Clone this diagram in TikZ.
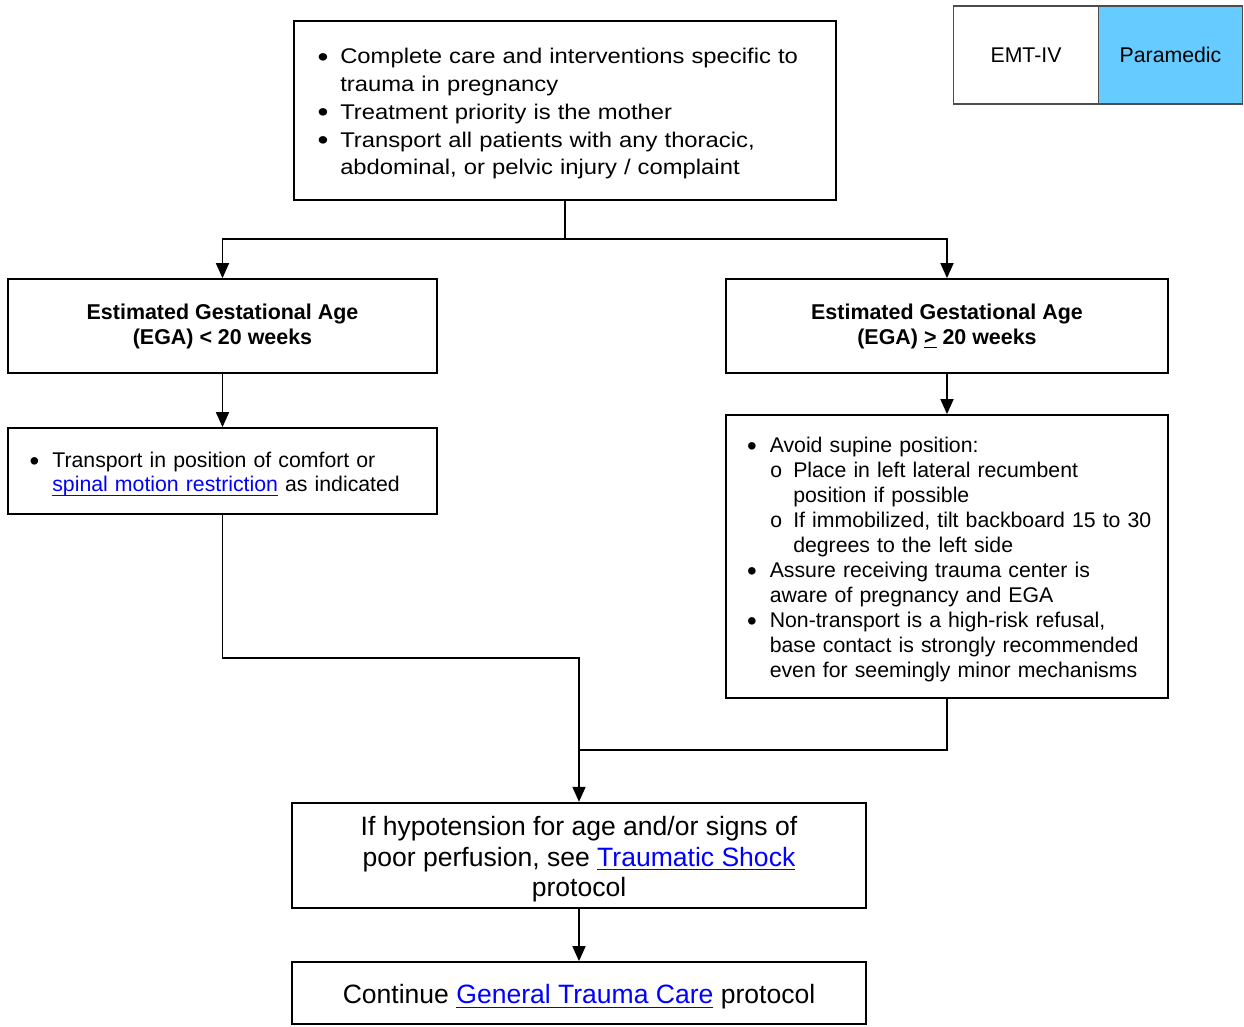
\documentclass[tikz,border=0pt]{standalone}
\usepackage{fontspec}
\usepackage{graphicx}
\setmainfont{Liberation Sans}
\setmonofont{Liberation Mono}
\newfontfamily\widesans{Liberation Sans}[FakeStretch=1.12]
\usetikzlibrary{arrows.meta}
\newsavebox{\ulbox}
\newcommand{\ulwords}[1]{\sbox{\ulbox}{#1}\rlap{\rule[-2.2pt]{\wd\ulbox}{0.6pt}}\usebox{\ulbox}}
\newcommand{\protolink}[1]{\textcolor{linkblue}{\ulwords{#1}}}
\newcommand{\itembul}{\makebox[0.455cm][l]{\raisebox{-0.12em}{\scalebox{1.3}{\textbullet}}}}
\newcommand{\itemgap}{\hspace*{0.455cm}}
\newcommand{\subbul}{\makebox[0.47cm][l]{\ttfamily o}}
\begin{document}
\begin{tikzpicture}[font=\fontsize{12.1}{14.2}\selectfont,
  >={Triangle[width=0.26cm,length=0.3cm]},
  box/.style={draw, line width=1pt, align=center, execute at begin node={\rule{0pt}{1.03em}}},
  listbox/.style={box, align=left},
  flow/.style={line width=1pt, ->},
  legendbox/.style={draw=black!70, line width=0.8pt, minimum width=2.89cm, minimum height=1.96cm}]
  \definecolor{linkblue}{RGB}{0,0,255}
  \definecolor{paramedicblue}{RGB}{102,204,255}
  \useasboundingbox (0,0) rectangle (24.88,-20.52);
  % provider levels
  \node[legendbox] (emt) at (20.52,-1.10) {EMT-IV};
  \node[legendbox, fill=paramedicblue] (para) at (23.41,-1.10) {Paramedic};
  % initial care
  \node[listbox, text width=9.90cm, inner xsep=0.47cm, minimum height=3.58cm,
    font=\widesans\fontsize{12.1}{15.8}\selectfont] (care) at (11.30,-2.21)
    {\itembul Complete care and interventions specific to\\
     \itemgap trauma in pregnancy\\
     \itembul Treatment priority is the mother\\
     \itembul Transport all patients with any thoracic,\\
     \itemgap abdominal, or pelvic injury / complaint};
  % gestational age
  \node[box, minimum width=8.58cm, minimum height=1.88cm,
    font=\bfseries\fontsize{12.2}{14.2}\selectfont] (egaless) at (4.45,-6.52)
    {Estimated Gestational Age\\(EGA) < 20 weeks};
  \node[box, minimum width=8.84cm, minimum height=1.88cm,
    font=\bfseries\fontsize{12.2}{14.2}\selectfont] (egamore) at (18.94,-6.52)
    {Estimated Gestational Age\\(EGA) \ulwords{>} 20 weeks};
  \node[listbox, text width=7.716cm, inner xsep=0.432cm, minimum height=1.72cm,
    font=\fontsize{12.1}{13.8}\selectfont] (earlycare) at (4.45,-9.42)
    {\itembul Transport in position of comfort or\\
     \itemgap\protolink{spinal motion restriction} as indicated};
  \node[listbox, text width=8.00cm, inner xsep=0.42cm, minimum height=5.66cm] (latecare) at (18.94,-11.13)
    {\itembul Avoid supine position:\\
     \itemgap\subbul Place in left lateral recumbent\\
     \hspace*{0.925cm}position if possible\\
     \itemgap\subbul\mbox{If immobilized, tilt backboard 15 to 30}\\
     \hspace*{0.925cm}degrees to the left side\\
     \itembul Assure receiving trauma center is\\
     \itemgap aware of pregnancy and EGA\\
     \itembul Non-transport is a high-risk refusal,\\
     \itemgap base contact is strongly recommended\\
     \itemgap even for seemingly minor mechanisms};
  % shock and general care
  \node[box, minimum width=11.48cm, minimum height=2.10cm,
    font=\fontsize{15.1}{17.4}\selectfont] (shock) at (11.58,-17.11)
    {\rule{0pt}{15.5pt}If hypotension for age and/or signs of\\
     poor perfusion, see \protolink{Traumatic Shock}\\
     protocol};
  \node[box, minimum width=11.48cm, minimum height=1.24cm,
    font=\fontsize{15.1}{17.4}\selectfont] (general) at (11.58,-19.86)
    {Continue \protolink{General Trauma Care} protocol};
  % connectors
  \coordinate (split) at (11.30,-4.78);
  \coordinate (joinleft) at (11.58,-13.16);
  \coordinate (joinright) at (11.58,-15.00);
  \draw[line width=1pt] (care.south) -- (split);
  \draw[flow] (split) -| (egaless.north);
  \draw[flow] (split) -| (egamore.north);
  \draw[flow] (egaless.south) -- (earlycare.north);
  \draw[flow] (egamore.south) -- (latecare.north);
  \draw[flow] (earlycare.south) |- (joinleft) -- (shock.north);
  \draw[line width=1pt] (latecare.south) |- (joinright);
  \draw[flow] (shock.south) -- (general.north);
\end{tikzpicture}
\end{document}
